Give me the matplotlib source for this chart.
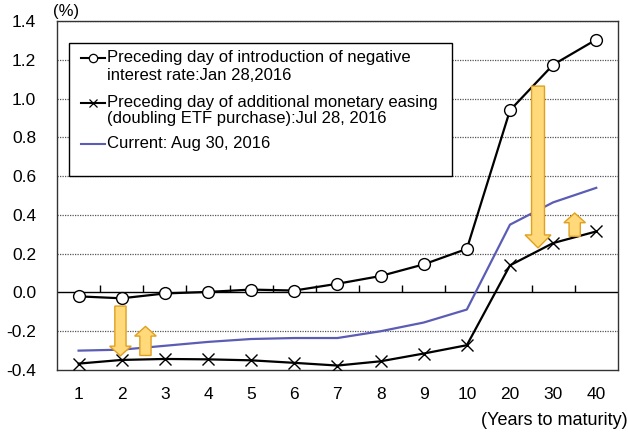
import numpy as np
import matplotlib.pyplot as plt
from matplotlib.patches import FancyArrow, Rectangle

plt.rcParams['font.family'] = ['Liberation Sans', 'DejaVu Sans']

maturity = ["1", "2", "3", "4", "5", "6", "7", "8", "9", "10", "20", "30", "40"]
jan28 = [-0.02, -0.03, -0.005, 0.003, 0.015, 0.01, 0.045, 0.085, 0.145, 0.225, 0.94, 1.175, 1.305]
jul28 = [-0.367, -0.348, -0.343, -0.345, -0.35, -0.363, -0.377, -0.355, -0.315, -0.272, 0.14, 0.255, 0.315]
aug30 = [-0.30, -0.295, -0.275, -0.255, -0.24, -0.235, -0.235, -0.20, -0.155, -0.088, 0.35, 0.465, 0.54]

legend_lines = [["Preceding day of introduction of negative", "interest rate:Jan 28,2016"],
                ["Preceding day of additional monetary easing", "(doubling ETF purchase):Jul 28, 2016"],
                ["Current: Aug 30, 2016"]]

# arrows: x index, y start, dy
arrows = [(0.97, -0.07, -0.257), (1.55, -0.325, 0.15), (10.65, 1.065, -0.835), (11.5, 0.29, 0.12)]

blue = "#5b5db5"
fig = plt.figure(figsize=(6.28, 4.32), dpi=100)
ax = fig.add_axes([0.0908, 0.1435, 0.893, 0.8075])
x = np.arange(len(maturity))

for yv in np.arange(-0.2, 1.41, 0.2):
    if abs(yv) > 1e-6:
        ax.axhline(yv, color="#555555", lw=0.9, ls=(0, (1, 1)), zorder=1)
ax.axhline(0, color="black", lw=1.0, zorder=2)
ax.vlines(x[:-1] + 0.5, 0, 0.04, color="black", lw=1.0, zorder=2)

ax.plot(x, aug30, color=blue, lw=1.6, zorder=3)
ax.plot(x, jul28, color="black", lw=1.6, marker="x", ms=8, mew=1.0, zorder=4)
ax.plot(x, jan28, color="black", lw=1.6, marker="o", ms=8.5, mfc="white", mew=1.0, zorder=5)

for ax_x, y0, dy in arrows:
    big = abs(dy) > 0.5
    w = 0.30 if big else 0.26
    hw = 0.60 if big else 0.50
    hl = 0.067 if big else 0.05
    ax.add_patch(FancyArrow(ax_x, y0, 0, dy, width=w, head_width=hw, head_length=hl,
                            length_includes_head=True, facecolor="#ffd97a",
                            edgecolor="#e0a020", lw=1.0, zorder=6))

ax.set_xlim(-0.5, len(maturity) - 0.5)
ax.set_ylim(-0.4, 1.4)
ax.set_xticks(x)
ax.set_xticklabels(maturity)
ax.set_yticks(np.round(np.arange(-0.4, 1.41, 0.2), 1))
ax.set_yticklabels(["%.1f" % v for v in np.arange(-0.4, 1.41, 0.2)])
ax.tick_params(length=0, labelsize=12.5)
ax.tick_params(axis="y", pad=15)
ax.tick_params(axis="x", pad=12)
for s in ax.spines.values():
    s.set_color("#333333")
    s.set_linewidth(1.0)

# legend, laid out by hand so the keys sit on the first line of each entry
ax.add_patch(Rectangle((0.021, 0.555), 0.683, 0.383, transform=ax.transAxes,
                       facecolor="white", edgecolor="black", lw=1.0, zorder=7))
colors = ["black", "black", blue]
markers = [dict(marker="o", ms=6, mfc="white", mew=0.9), dict(marker="x", ms=6, mew=0.9), None]
baselines = [[0.8825, 0.831], [0.7536, 0.7077], [0.6361]]
for lines, c, mk, bl in zip(legend_lines, colors, markers, baselines):
    ky = bl[0] + 0.0125
    ax.plot([0.043, 0.0856], [ky, ky], transform=ax.transAxes, color=c, lw=1.5,
            clip_on=False, zorder=8)
    if mk is not None:
        ax.plot([0.064], [ky], transform=ax.transAxes, color=c, ls="none",
                clip_on=False, zorder=9, **mk)
    for txt, yb in zip(lines, bl):
        ax.text(0.0891, yb, txt, transform=ax.transAxes, fontsize=12, va="baseline",
                ha="left", zorder=9)

fig.text(0.084, 0.99, "(%)", fontsize=12, ha="left", va="top")
fig.text(0.999, 0.046, "(Years to maturity)", fontsize=13, ha="right", va="top")

fig.savefig("out.png", dpi=100)
